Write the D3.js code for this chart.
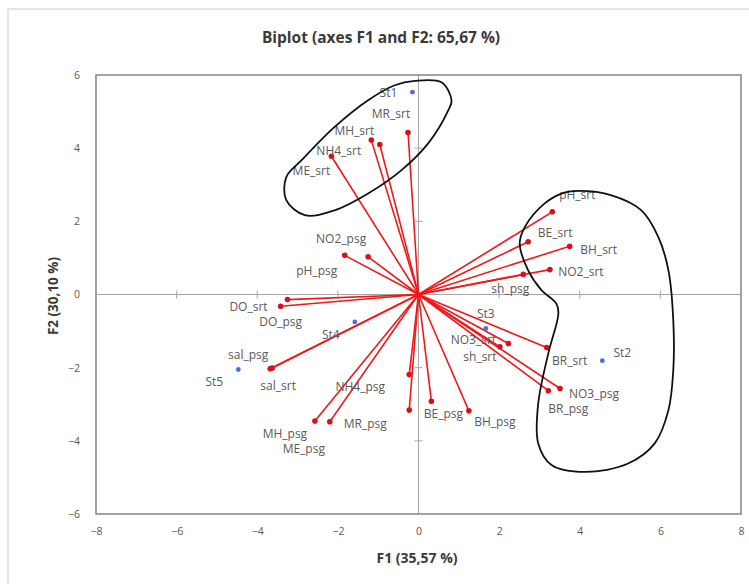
<!DOCTYPE html>
<html>
<head>
<meta charset="utf-8">
<script src="https://cdn.jsdelivr.net/npm/d3@7"></script>
<style>
  body { margin: 0; background: #fff; }
  svg { display: block; font-family: "Open Sans", "Liberation Sans", sans-serif; }
</style>
</head>
<body>
<div id="biplot"></div>
<script>
// observations (blue points)
const obsNames = ["St1", "St2", "St3", "St4", "St5"];
const obsF1 = [-0.15, 4.56, 1.67, -1.58, -4.47];
const obsF2 = [5.53, -1.81, -0.93, -0.75, -2.05];

// variables (red vectors from origin)
const varNames = ["MR_srt", "MH_srt", "NH4_srt", "ME_srt", "NO2_psg", "pH_psg", "DO_srt", "DO_psg",
  "sal_psg", "sal_srt", "NH4_psg", "MH_psg", "ME_psg", "MR_psg", "BE_psg", "BH_psg",
  "pH_srt", "BE_srt", "BH_srt", "NO2_srt", "sh_psg", "BR_srt", "NO3_srt", "sh_srt", "NO3_psg", "BR_psg"];
const varF1 = [-0.26, -1.17, -0.96, -2.16, -1.25, -1.83, -3.25, -3.42,
  -3.63, -3.68, -0.23, -2.57, -2.20, -0.23, 0.32, 1.25,
  3.32, 2.72, 3.75, 3.26, 2.60, 3.18, 2.23, 2.02, 3.51, 3.22];
const varF2 = [4.43, 4.22, 4.10, 3.78, 1.03, 1.07, -0.14, -0.32,
  -2.01, -2.03, -2.19, -3.46, -3.48, -3.16, -2.92, -3.18,
  2.26, 1.44, 1.32, 0.68, 0.55, -1.45, -1.34, -1.43, -2.57, -2.63];

// tick values
const xTicks = [-8, -6, -4, -2, 0, 2, 4, 6, 8];
const yTicks = [-6, -4, -2, 0, 2, 4, 6];

// hand drawn groupings, in F1/F2 units
const loopTopF1 = [-0.09, 0.57, 0.82, 0.74, 0.24, -0.42, -1.25, -2.08, -2.82, -3.28, -3.28, -2.90, -2.08, -1.25, -0.59];
const loopTopF2 = [5.84, 5.80, 5.31, 5.04, 4.13, 3.40, 2.76, 2.30, 2.17, 2.58, 3.21, 3.67, 4.58, 5.31, 5.72];
const loopRightF1 = [3.96, 4.79, 5.53, 5.95, 6.20, 6.32, 6.32, 6.20, 5.86, 5.20, 4.13, 3.30, 2.97, 2.97, 3.22, 3.47, 3.42, 3.05, 2.72, 2.51, 2.64, 3.13, 3.55];
const loopRightF2 = [2.83, 2.71, 2.30, 1.57, 0.66, -0.70, -2.07, -3.16, -4.07, -4.62, -4.85, -4.66, -4.07, -2.98, -1.61, -0.52, -0.25, 0.12, 0.66, 1.39, 1.85, 2.49, 2.76];

// label placement (pixel offset of label centre from its point)
const labelOffsets = {
  St1: [-24, 0], St2: [20, -8], St3: [0, -15], St4: [-24, 13], St5: [-24, 12],
  MR_srt: [-17, -19], MH_srt: [-17, -10], NH4_srt: [-41, 6], ME_srt: [-20, 14],
  NO2_psg: [-27, -18], pH_psg: [-28, 15], DO_srt: [-39, 7], DO_psg: [0, 15],
  sal_psg: [-24, -14], sal_srt: [8, 17], NH4_psg: [-49, 12], MH_psg: [-30, 12],
  ME_psg: [-26, 27], MR_psg: [-44, 13], BE_psg: [12, 12], BH_psg: [26, 11],
  pH_srt: [25, -17], BE_srt: [27, -9], BH_srt: [29, 3], NO2_srt: [31, 2],
  sh_psg: [-13, 14], BR_srt: [23, 13], NO3_srt: [-35, -4], sh_srt: [-20, 10],
  NO3_psg: [34, 5], BR_psg: [20, 18]
};

const width = 749;
const height = 584;
const plot = {left: 96, right: 741, top: 75, bottom: 514};

const observations = obsNames.map((n, i) => ({name: n, f1: obsF1[i], f2: obsF2[i]}));
const variables = varNames.map((n, i) => ({name: n, f1: varF1[i], f2: varF2[i]}));
const loops = [
  loopTopF1.map((v, i) => [v, loopTopF2[i]]),
  loopRightF1.map((v, i) => [v, loopRightF2[i]])
];

const svg = d3.select("#biplot")
  .append("svg")
  .attr("width", width)
  .attr("height", height);

svg.append("rect")
  .attr("width", width)
  .attr("height", height)
  .attr("fill", "#fff");

// outer chart frame
svg.append("rect")
  .attr("x", 8)
  .attr("y", 9)
  .attr("width", 780)
  .attr("height", 620)
  .attr("fill", "none")
  .attr("stroke", "#d4d4d4")
  .attr("stroke-width", 1.2);

svg.append("text")
  .text("Biplot (axes F1 and F2: 65,67 %)")
  .attr("x", 381)
  .attr("y", 37)
  .attr("text-anchor", "middle")
  .attr("dominant-baseline", "central")
  .attr("font-weight", "bold")
  .attr("fill", "#3a3a3a")
  .style("font-size", "15.5px");

const xScale = d3.scaleLinear()
  .domain([-8, 8])
  .range([plot.left, plot.right]);

const yScale = d3.scaleLinear()
  .domain([-6, 6])
  .range([plot.bottom, plot.top]);

// tick labels only, the frame is drawn separately
const bottomAxis = d3.axisBottom(xScale)
  .tickValues(xTicks)
  .tickSize(0)
  .tickPadding(14);

svg.append("g")
  .attr("class", "axis-x")
  .attr("transform", `translate(0, ${plot.bottom})`)
  .call(bottomAxis)
  .call(g => g.select(".domain").remove());

const leftAxis = d3.axisLeft(yScale)
  .tickValues(yTicks)
  .tickSize(0)
  .tickPadding(16);

svg.append("g")
  .attr("class", "axis-y")
  .attr("transform", `translate(${plot.left}, 0)`)
  .call(leftAxis)
  .call(g => g.select(".domain").remove());

svg.selectAll(".axis-x text, .axis-y text")
  .attr("fill", "#595959")
  .style("font-size", "10.5px")
  .style("font-family", "'Open Sans', sans-serif");

// zero lines with small crossing ticks
svg.append("line")
  .attr("x1", plot.left).attr("x2", plot.right)
  .attr("y1", yScale(0)).attr("y2", yScale(0))
  .attr("stroke", "#a6a6a6");
svg.append("line")
  .attr("x1", xScale(0)).attr("x2", xScale(0))
  .attr("y1", plot.top).attr("y2", plot.bottom)
  .attr("stroke", "#a6a6a6");

svg.append("g")
  .selectAll("line")
  .data(xTicks.filter(d => d != 0 && Math.abs(d) != 8))
  .join("line")
    .attr("x1", d => xScale(d)).attr("x2", d => xScale(d))
    .attr("y1", yScale(0) - 4).attr("y2", yScale(0) + 4)
    .attr("stroke", "#a6a6a6");

svg.append("g")
  .selectAll("line")
  .data(yTicks.filter(d => d != 0 && Math.abs(d) != 6))
  .join("line")
    .attr("x1", xScale(0) - 4).attr("x2", xScale(0) + 4)
    .attr("y1", d => yScale(d)).attr("y2", d => yScale(d))
    .attr("stroke", "#a6a6a6");

// plot frame
svg.append("rect")
  .attr("x", plot.left)
  .attr("y", plot.top)
  .attr("width", plot.right - plot.left)
  .attr("height", plot.bottom - plot.top)
  .attr("fill", "none")
  .attr("stroke", "#8c8c8c")
  .attr("stroke-width", 1.6);

// axis titles
svg.append("text")
  .text("F1 (35,57 %)")
  .attr("x", 417)
  .attr("y", 557)
  .attr("text-anchor", "middle")
  .attr("dominant-baseline", "central")
  .attr("font-weight", "bold")
  .attr("fill", "#3a3a3a")
  .style("font-size", "14px");

svg.append("text")
  .text("F2 (30,10 %)")
  .attr("text-anchor", "middle")
  .attr("dominant-baseline", "central")
  .attr("transform", "translate(53, 296) rotate(-90)")
  .attr("font-weight", "bold")
  .attr("fill", "#3a3a3a")
  .style("font-size", "13.5px");

// variable vectors
svg.append("g")
  .attr("class", "vectors")
  .selectAll("line")
  .data(variables)
  .join("line")
    .attr("x1", xScale(0))
    .attr("y1", yScale(0))
    .attr("x2", d => xScale(d.f1))
    .attr("y2", d => yScale(d.f2))
    .attr("stroke", "#f01818")
    .attr("stroke-width", 1.6);

svg.append("g")
  .selectAll("circle")
  .data(variables)
  .join("circle")
    .attr("cx", d => xScale(d.f1))
    .attr("cy", d => yScale(d.f2))
    .attr("r", 2.8)
    .attr("fill", "#d8101a");

svg.append("g")
  .selectAll("circle")
  .data(observations)
  .join("circle")
    .attr("cx", d => xScale(d.f1))
    .attr("cy", d => yScale(d.f2))
    .attr("r", 2.4)
    .attr("fill", "#4f6fd8");

// labels for both sets
svg.append("g")
  .selectAll("text")
  .data(variables.concat(observations))
  .join("text")
    .text(d => d.name)
    .attr("x", d => xScale(d.f1) + labelOffsets[d.name][0])
    .attr("y", d => yScale(d.f2) + labelOffsets[d.name][1])
    .attr("text-anchor", "middle")
    .attr("dominant-baseline", "central")
    .attr("fill", "#595959")
    .style("font-size", "12px");

// hand drawn loops
const loopLine = d3.line()
  .x(d => xScale(d[0]))
  .y(d => yScale(d[1]))
  .curve(d3.curveCatmullRomClosed);

svg.append("g")
  .selectAll("path")
  .data(loops)
  .join("path")
    .attr("d", d => loopLine(d))
    .attr("fill", "none")
    .attr("stroke", "#111")
    .attr("stroke-width", 1.8);
</script>
</body>
</html>
